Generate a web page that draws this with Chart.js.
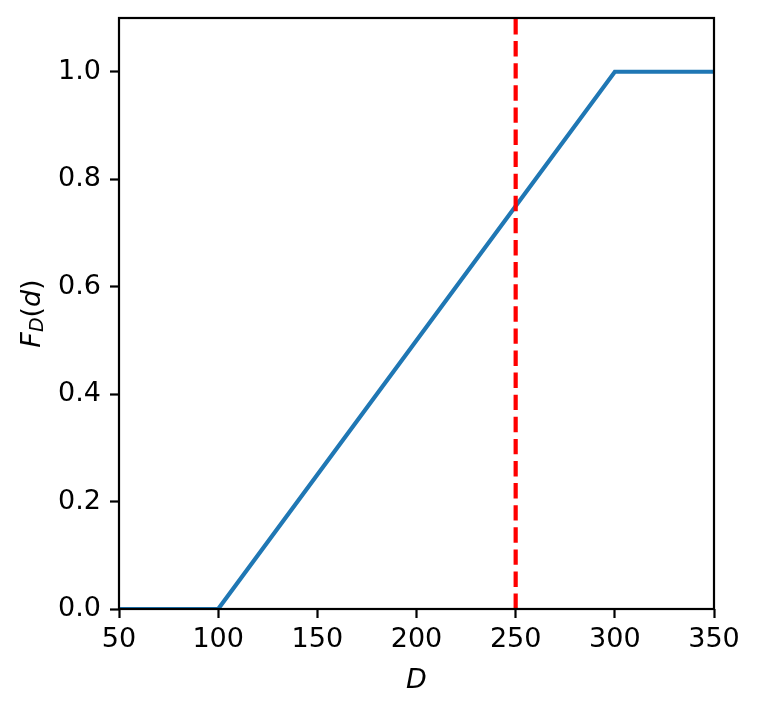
<!DOCTYPE html>
<html>
<head>
<meta charset="utf-8">
<script src="https://cdn.jsdelivr.net/npm/chart.js@4/dist/chart.umd.min.js"></script>
<style>
html,body{margin:0;padding:0;background:#fff;}
canvas{display:block;}
</style>
</head>
<body>
<canvas id="c" width="759" height="711"></canvas>
<script>
// Data
const cdfX = [50, 100, 300, 350];
const cdfY = [0, 0, 1, 1];
const markerX = 250;
const markerSpan = [0, 1.1];
const xTicks = [50, 100, 150, 200, 250, 300, 350];
const yTicks = [0.0, 0.2, 0.4, 0.6, 0.8, 1.0];
const xLabel = 'D';

const FONT = 'DejaVu Sans';
const FS = 27;

const boxPlugin = {
  id: 'box',
  afterDatasetsDraw(chart) {
    const {ctx, chartArea: a} = chart;
    ctx.save();
    ctx.strokeStyle = '#000';
    ctx.lineWidth = 2.2;
    ctx.strokeRect(a.left, a.top, a.right - a.left, a.bottom - a.top);
    ctx.restore();
  },
  afterDraw(chart) {
    const {ctx, chartArea: a} = chart;
    ctx.save();
    ctx.fillStyle = '#000';
    // y label F_D(d)
    ctx.translate(33, (a.top + a.bottom) / 2);
    ctx.rotate(-Math.PI / 2);
    const big = FS, small = FS * 0.7;
    const parts = [
      {t: 'F', f: `italic ${big}px "${FONT}"`, dy: 0},
      {t: 'D', f: `italic ${small}px "${FONT}"`, dy: 5},
      {t: '(', f: `${big}px "${FONT}"`, dy: 0},
      {t: 'd', f: `italic ${big}px "${FONT}"`, dy: 0},
      {t: ')', f: `${big}px "${FONT}"`, dy: 0}
    ];
    let total = 0;
    parts.forEach(p => { ctx.font = p.f; p.w = ctx.measureText(p.t).width; total += p.w; });
    let x = -total / 2;
    ctx.textBaseline = 'middle';
    parts.forEach(p => { ctx.font = p.f; ctx.fillText(p.t, x, p.dy); x += p.w; });
    ctx.restore();
  }
};

function zeroPad(s) { s.paddingTop = 0; s.paddingBottom = 0; s.paddingLeft = 0; s.paddingRight = 0; }

new Chart(document.getElementById('c'), {
  type: 'line',
  data: {
    datasets: [
      {
        data: cdfX.map((x, i) => ({x, y: cdfY[i]})),
        borderColor: '#1f77b4',
        borderWidth: 4.2,
        pointRadius: 0,
        fill: false,
        tension: 0,
        clip: 0,
        order: 2
      },
      {
        data: markerSpan.map(y => ({x: markerX, y})),
        borderColor: '#ff0000',
        borderWidth: 4.2,
        borderDash: [15.4, 6.7],
        borderCapStyle: 'butt',
        pointRadius: 0,
        fill: false,
        clip: 0,
        order: 1
      }
    ]
  },
  options: {
    responsive: false,
    animation: false,
    devicePixelRatio: 1,
    layout: {padding: {top: 18, right: 45, left: 0, bottom: 0}},
    plugins: {legend: {display: false}, tooltip: {enabled: false}},
    scales: {
      x: {
        type: 'linear',
        min: 50, max: 350,
        afterBuildTicks(s) { s.ticks = xTicks.map(v => ({value: v})); },
        afterFit(s) { s.height = 102; zeroPad(s); },
        grid: {drawOnChartArea: false, drawTicks: true, tickLength: 9, tickWidth: 2.2, tickColor: '#000'},
        border: {display: false},
        ticks: {color: '#000', font: {family: FONT, size: FS}, padding: 6, maxRotation: 0, autoSkip: false,
                callback: v => String(v)},
        title: {display: true, text: xLabel, color: '#000', font: {family: FONT, size: FS, style: 'italic'}, padding: {top: 0, bottom: 14}}
      },
      y: {
        type: 'linear',
        min: 0, max: 1.1,
        afterBuildTicks(s) { s.ticks = yTicks.map(v => ({value: v})); },
        afterFit(s) { s.width = 119; zeroPad(s); },
        grid: {drawOnChartArea: false, drawTicks: true, tickLength: 9, tickWidth: 2.2, tickColor: '#000'},
        border: {display: false},
        ticks: {color: '#000', font: {family: FONT, size: FS}, padding: 9, autoSkip: false,
                callback: v => Number(v).toFixed(1)}
      }
    }
  },
  plugins: [boxPlugin]
});
</script>
</body>
</html>
